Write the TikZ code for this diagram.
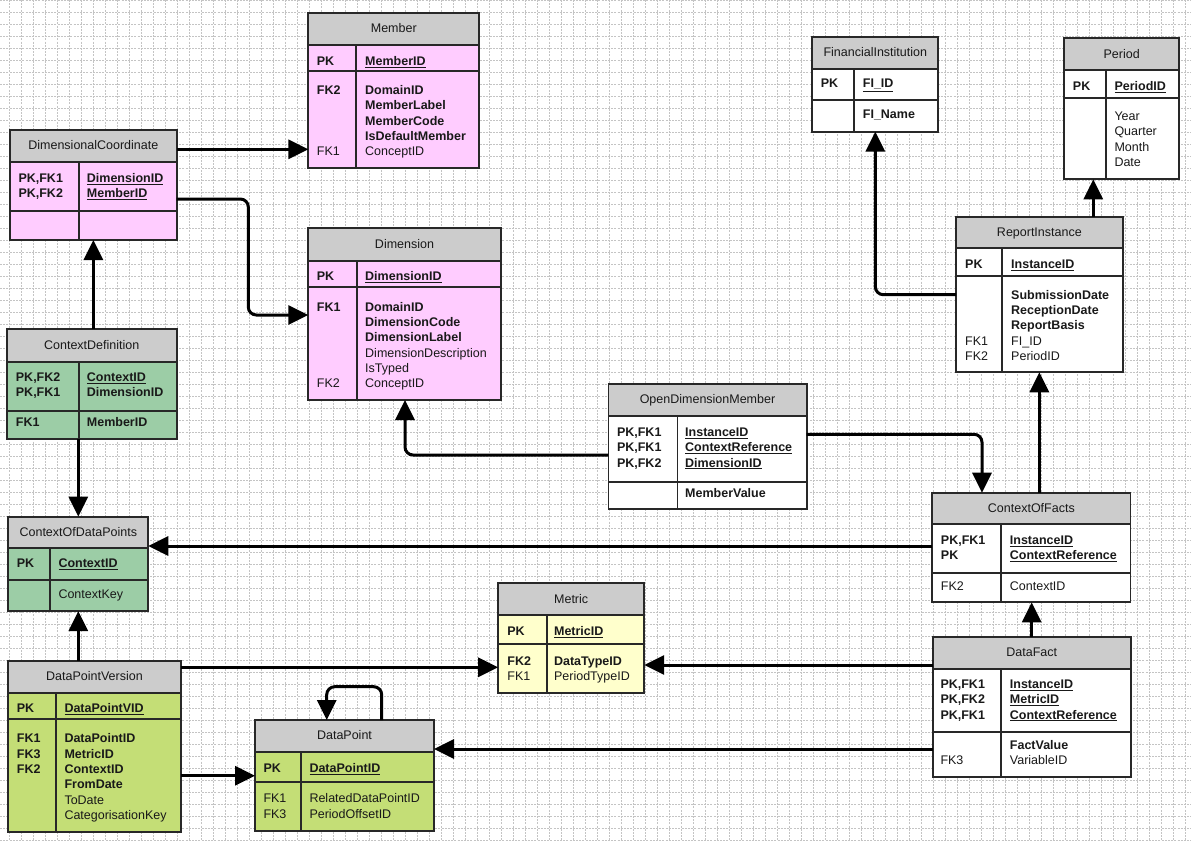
\documentclass[tikz,border=0pt]{standalone}
\usepackage{fontspec}
\setmainfont{Liberation Sans}
\usetikzlibrary{arrows.meta}
\definecolor{pinkfill}{RGB}{255,204,255}
\definecolor{mintfill}{RGB}{156,205,166}
\definecolor{limefill}{RGB}{196,222,118}
\definecolor{yellowfill}{RGB}{255,255,204}
\definecolor{hdrgray}{RGB}{204,204,204}
\definecolor{gridgray}{RGB}{196,196,196}
\definecolor{tborder}{RGB}{40,40,40}
\definecolor{txt}{RGB}{25,25,25}
\newcounter{tn}
\newcommand\erB[1]{\textbf{#1}}
\newcommand\erU[1]{\underline{\textbf{#1}}}
\tikzset{
  gridline/.style={gridgray, line width=0.7pt, dash pattern=on 2pt off 1.2pt},
  tline/.style={tborder, line width=1.8pt},
  tablebox/.style={rectangle, draw=tborder, line width=1.8pt, inner sep=0pt, outer sep=0pt},
  titletext/.style={inner sep=0pt, text=txt, font=\fontsize{12.5}{15.3}\selectfont},
  celltext/.style={inner sep=0pt, text=txt, font=\fontsize{12.5}{15.3}\selectfont, anchor=base west},
  conn/.style={line width=3pt, black, rounded corners=8pt, -{Triangle[length=20pt,width=19pt]}}
}
% name, x1, y1, x2, y2, header bottom, row bottom, divider x, fill
\newcommand\ertable[9]{%
  \fill[hdrgray] (#2,#3) rectangle (#4,#6);
  \fill[#9] (#2,#6) rectangle (#4,#5);
  \draw[tline] (#2,#6) -- (#4,#6) (#2,#7) -- (#4,#7) (#8,#6) -- (#8,#5);
  \node[tablebox, minimum width=\dimexpr#4pt-#2pt\relax, minimum height=\dimexpr#5pt-#3pt\relax] (#1) at ({(#2+#4)/2},{(#3+#5)/2}) {};
}
\newcommand\ertitle[2]{\node[titletext, anchor=base] (#1-title) at ([yshift=-19.8pt]#1.north) {#2};}
% x, first baseline, list of lines
\newcommand\col[3]{%
  \foreach \celltxt [count=\ci from 0] in {#3} {%
    \stepcounter{tn}%
    \node[celltext] (c\arabic{tn}) at (#1,{#2+\ci*15.3}) {\celltxt};
  }%
}
\begin{document}
\begin{tikzpicture}[x=1pt, y=-1pt]
\useasboundingbox (0,0) rectangle (1191,841);
\fill[white] (0,0) rectangle (1191,841);
\foreach \gx in {9,21,...,1190} {\draw[gridline] (\gx,0) -- (\gx,841);}
\foreach \gy in {0,12,...,840} {\draw[gridline] (0,\gy) -- (1191,\gy);}

% Member
\ertable{member}{308.3}{12.7}{479.3}{168.3}{45}{71}{356}{pinkfill}
\ertitle{member}{Member}
\col{316.7}{65.2}{\erB{PK}}
\col{365}{65.2}{\erU{MemberID}}
\col{316.7}{94.5}{\erB{FK2}}
\col{316.7}{94.5+4*15.3}{FK1}
\col{365}{94.5}{\erB{DomainID},\erB{MemberLabel},\erB{MemberCode},\erB{IsDefaultMember},ConceptID}

% DimensionalCoordinate
\ertable{dc}{10}{130}{176.7}{240}{162.3}{211}{78.7}{pinkfill}
\ertitle{dc}{DimensionalCoordinate}
\col{18.3}{182.2}{\erB{PK,FK1},\erB{PK,FK2}}
\col{86.7}{182.2}{\erU{DimensionID},\erU{MemberID}}

% Dimension
\ertable{dim}{308.3}{228.3}{500.7}{400}{260.7}{286.7}{356.7}{pinkfill}
\ertitle{dim}{Dimension}
\col{316.7}{280.5}{\erB{PK}}
\col{365}{280.5}{\erU{DimensionID}}
\col{316.7}{311.2}{\erB{FK1}}
\col{316.7}{311.2+5*15.3}{FK2}
\col{365}{311.2}{\erB{DomainID},\erB{DimensionCode},\erB{DimensionLabel},DimensionDescription,IsTyped,ConceptID}

% ContextDefinition
\ertable{cd}{6.7}{329.3}{176.7}{439.3}{361.7}{410.7}{78.7}{mintfill}
\ertitle{cd}{ContextDefinition}
\col{15.7}{381.2}{\erB{PK,FK2},\erB{PK,FK1}}
\col{86.7}{381.2}{\erU{ContextID},\erB{DimensionID}}
\col{15.7}{426.8}{\erB{FK1}}
\col{86.7}{426.8}{\erB{MemberID}}

% FinancialInstitution
\ertable{fi}{812.3}{36.7}{938.3}{131.7}{69}{100}{854}{white}
\ertitle{fi}{FinancialInstitution}
\col{820.7}{87.8}{\erB{PK}}
\col{862.7}{87.8}{\erU{FI\_ID}}
\col{862.7}{118.8}{\erB{FI\_Name}}

% Period
\ertable{period}{1064.3}{38.3}{1179}{179.3}{70.3}{97.7}{1105.7}{white}
\ertitle{period}{Period}
\col{1072.7}{90.2}{\erB{PK}}
\col{1114.3}{90.2}{\erU{PeriodID}}
\col{1114.3}{120.5}{Year,Quarter,Month,Date}

% ReportInstance
\ertable{ri}{956}{216.7}{1122.7}{372.3}{248.3}{275.7}{1002.3}{white}
\ertitle{ri}{ReportInstance}
\col{965}{268.8}{\erB{PK}}
\col{1011}{268.8}{\erU{InstanceID}}
\col{1011}{299.2}{\erB{SubmissionDate},\erB{ReceptionDate},\erB{ReportBasis},FI\_ID,PeriodID}
\col{965}{299.2+3*15.3}{FK1,FK2}

% OpenDimensionMember
\ertable{odm}{608.4}{384}{806.6}{509.3}{416}{481.7}{677.4}{white}
\ertitle{odm}{OpenDimensionMember}
\col{616.8}{436.5}{\erB{PK,FK1},\erB{PK,FK1},\erB{PK,FK2}}
\col{685}{436.5}{\erU{InstanceID},\erU{ContextReference},\erU{DimensionID}}
\col{685}{497.8}{\erB{MemberValue}}

% ContextOfFacts
\ertable{cof}{932.3}{492.7}{1130.4}{602.3}{524.3}{573.3}{1000.9}{white}
\ertitle{cof}{ContextOfFacts}
\col{940.7}{544.5}{\erB{PK,FK1},\erB{PK}}
\col{1009.7}{544.5}{\erU{InstanceID},\erU{ContextReference}}
\col{940.7}{590.2}{FK2}
\col{1009.7}{590.2}{ContextID}

% ContextOfDataPoints
\ertable{codp}{8.3}{516.7}{148.3}{611}{548.3}{580}{50}{mintfill}
\ertitle{codp}{ContextOfDataPoints}
\col{16.7}{567.8}{\erB{PK}}
\col{58.3}{567.8}{\erU{ContextID}}
\col{58.3}{598.8}{ContextKey}

% Metric
\ertable{metric}{498.1}{583.3}{644.2}{693.3}{615}{644.3}{546.7}{yellowfill}
\ertitle{metric}{Metric}
\col{507.2}{635.2}{\erB{PK}}
\col{553.9}{635.2}{\erU{MetricID}}
\col{507.2}{665.2}{\erB{FK2},FK1}
\col{553.9}{665.2}{\erB{DataTypeID},PeriodTypeID}

% DataFact
\ertable{df}{932.6}{636.7}{1130.8}{777.3}{668.7}{732.3}{1000.6}{white}
\ertitle{df}{DataFact}
\col{940.3}{688.5}{\erB{PK,FK1},\erB{PK,FK2},\erB{PK,FK1}}
\col{1009.7}{688.5}{\erU{InstanceID},\erU{MetricID},\erU{ContextReference}}
\col{1009.7}{749.5}{\erB{FactValue},VariableID}
\col{940.3}{749.5+15.3}{FK3}

% DataPointVersion
\ertable{dpv}{8.3}{660.7}{180.7}{831.7}{692.7}{719}{56}{limefill}
\ertitle{dpv}{DataPointVersion}
\col{16.7}{712.2}{\erB{PK}}
\col{64.3}{712.2}{\erU{DataPointVID}}
\col{16.7}{742.8}{\erB{FK1},\erB{FK3},\erB{FK2}}
\col{64.3}{742.8}{\erB{DataPointID},\erB{MetricID},\erB{ContextID},\erB{FromDate},ToDate,CategorisationKey}

% DataPoint
\ertable{dp}{255}{720}{434}{830.7}{752.3}{781.7}{301}{limefill}
\ertitle{dp}{DataPoint}
\col{263.3}{772.2}{\erB{PK}}
\col{309.3}{772.2}{\erU{DataPointID}}
\col{263.3}{802.8}{FK1,FK3}
\col{309.3}{802.8}{RelatedDataPointID,PeriodOffsetID}

% connectors
\draw[conn] (dc.east |- 0,149.3) -- (member.west |- 0,149.3);
\draw[conn] (dc.east |- 0,199) -- (248.3,199) -- (248.3,315) -- (dim.west |- 0,315);
\draw[conn] (cd.north -| dc.south) -- (dc.south);
\draw[conn] (cd.south -| codp.north) -- (codp.north);
\draw[conn] (dpv.north -| codp.south) -- (codp.south);
\draw[conn] (cof.west |- 0,546) -- (codp.east |- 0,546);
\draw[conn] (odm.west |- 0,455) -- (405,455) -- (dim.south -| 405,0);
\draw[conn] (odm.east |- 0,434.3) -- (982,434.3) -- (cof.north -| 982,0);
\draw[conn] (cof.north -| ri.south) -- (ri.south);
\draw[conn] (ri.north -| 1093.3,0) -- (period.south -| 1093.3,0);
\draw[conn] (ri.west |- 0,294.7) -- (fi.south |- 0,294.7) -- (fi.south);
\draw[conn] (dpv.east |- 0,667.3) -- (metric.west |- 0,667.3);
\draw[conn] (df.west |- 0,665) -- (metric.east |- 0,665);
\draw[conn] (dpv.east |- 0,775.7) -- (dp.west |- 0,775.7);
\draw[conn] (df.west |- 0,749) -- (dp.east |- 0,749);
\draw[conn] (df.north) -- (cof.south -| df.north);
\draw[conn] (dp.north -| 381.7,0) -- (381.7,686.7) -- (326.7,686.7) -- (dp.north -| 326.7,0);
\end{tikzpicture}
\end{document}
